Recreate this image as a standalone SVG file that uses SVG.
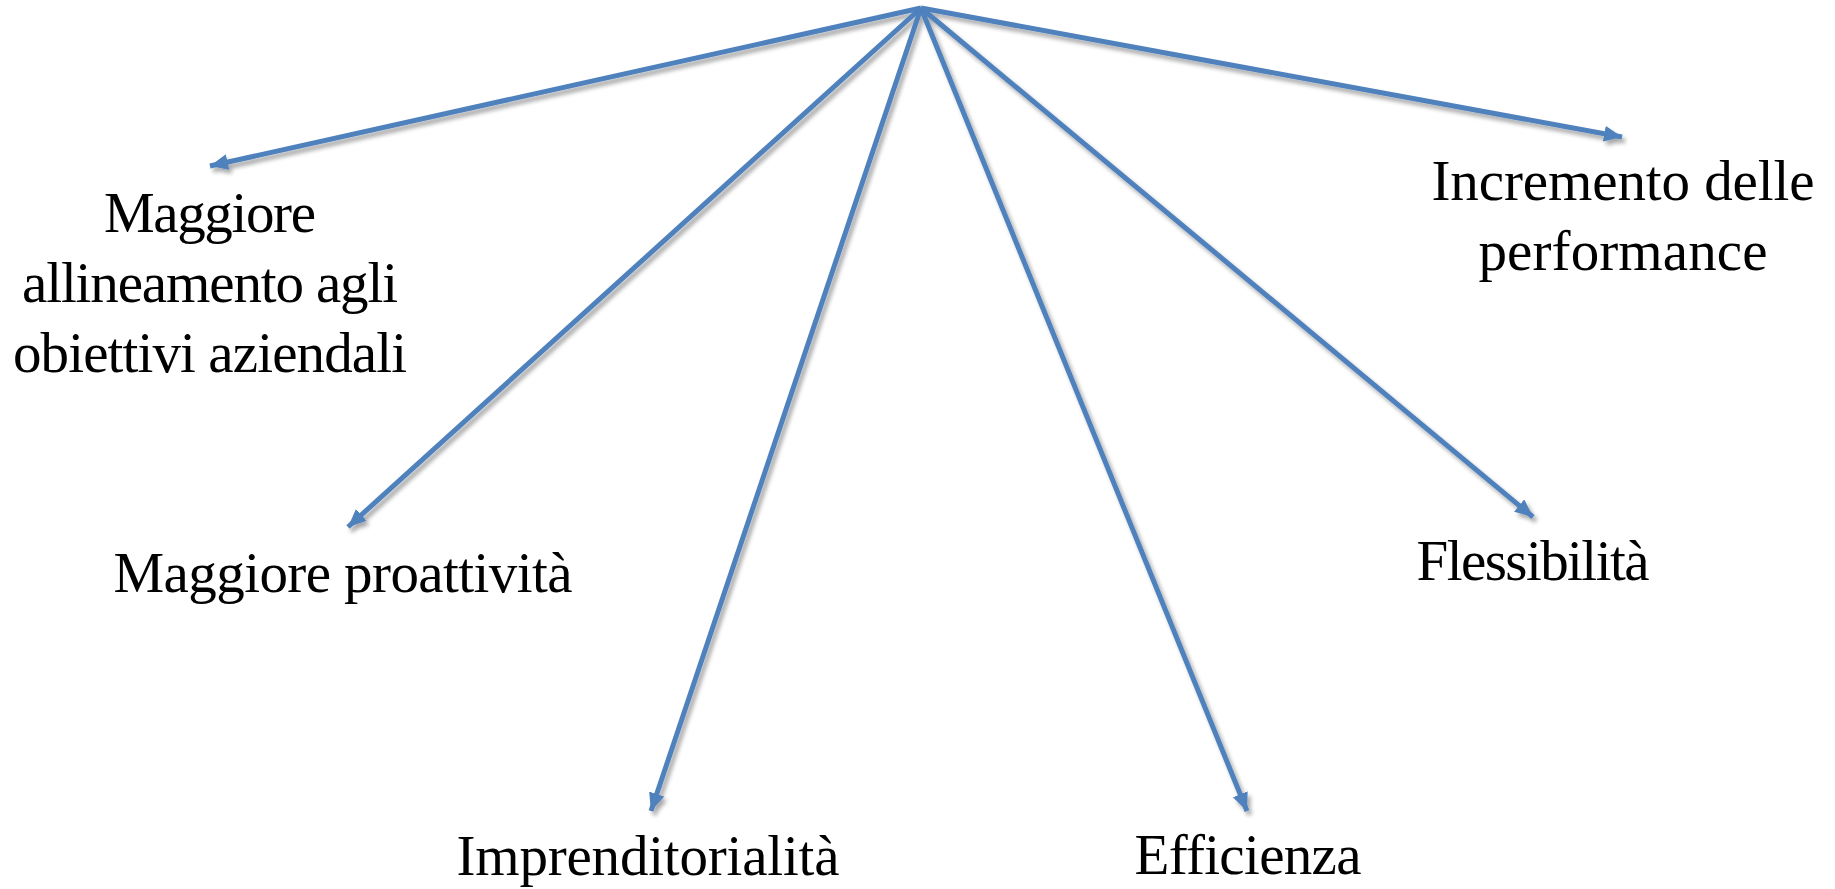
<svg xmlns="http://www.w3.org/2000/svg" width="1835" height="889" viewBox="0 0 1835 889">
<style>
.lbl{font-family:"Liberation Serif","Times New Roman",serif;font-size:57px;fill:#000;text-anchor:middle}
.conn{stroke:#4F81BD;stroke-width:5;fill:none;marker-end:url(#arr)}
</style>
<defs>
<marker id="arr" markerUnits="userSpaceOnUse" markerWidth="20" markerHeight="18" refX="18" refY="8" orient="auto">
<path d="M0,0 L18,8 L0,16 Z" fill="#4F81BD"/>
</marker>
<filter id="sh" x="-10%" y="-10%" width="120%" height="120%">
<feGaussianBlur in="SourceAlpha" stdDeviation="2"/>
<feOffset dx="3" dy="4" result="b"/>
<feComponentTransfer><feFuncA type="linear" slope="0.35"/></feComponentTransfer>
<feMerge><feMergeNode/><feMergeNode in="SourceGraphic"/></feMerge>
</filter>
</defs>
<g id="connectors" filter="url(#sh)">
<line class="conn" x1="921" y1="8" x2="210" y2="166"/>
<line class="conn" x1="921" y1="8" x2="348" y2="527"/>
<line class="conn" x1="921" y1="8" x2="651" y2="811"/>
<line class="conn" x1="921" y1="8" x2="1247" y2="811"/>
<line class="conn" x1="921" y1="8" x2="1533" y2="517"/>
<line class="conn" x1="921" y1="8" x2="1622" y2="137"/>
</g>
<g id="node-allineamento">
<text class="lbl" x="210" y="232" textLength="212">Maggiore</text>
<text class="lbl" x="210" y="302" textLength="376">allineamento agli</text>
<text class="lbl" x="210" y="372" textLength="394">obiettivi aziendali</text>
</g>
<g id="node-incremento">
<text class="lbl" x="1623" y="200" textLength="383">Incremento delle</text>
<text class="lbl" x="1623" y="270" textLength="289">performance</text>
</g>
<g id="node-proattivita">
<text class="lbl" x="343" y="592" textLength="459">Maggiore proattività</text>
</g>
<g id="node-imprenditorialita">
<text class="lbl" x="648" y="875" textLength="383">Imprenditorialità</text>
</g>
<g id="node-efficienza">
<text class="lbl" x="1248" y="874" textLength="227">Efficienza</text>
</g>
<g id="node-flessibilita">
<text class="lbl" x="1533" y="580" textLength="233">Flessibilità</text>
</g>
</svg>
